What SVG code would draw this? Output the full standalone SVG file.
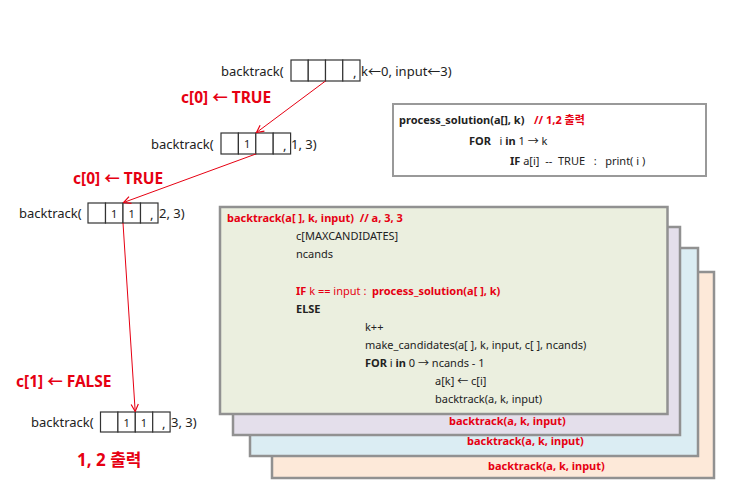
<svg xmlns="http://www.w3.org/2000/svg" width="748" height="488" viewBox="0 0 748 488">
<defs>
<style>
text{font-family:"Noto Sans","Noto Sans CJK KR",sans-serif;fill:#222}
.t13{font-size:13px}
.c11{font-size:11px}
.b{font-weight:bold}
.r{fill:#e60012}
.lbl{font-size:15.5px;font-weight:bold;fill:#e60012}
.cell{fill:#fff;stroke:#333;stroke-width:1.2}
.card{stroke:#919191;stroke-width:2.5}
.conn{stroke:#e60012;stroke-width:1;fill:none}
</style>
<marker id="ah" viewBox="0 0 10 10" refX="9" refY="5" markerWidth="9" markerHeight="9" markerUnits="userSpaceOnUse" orient="auto">
<path d="M1,1 L9,5 L1,9" fill="none" stroke="#e60012" stroke-width="1.3"/>
</marker>
</defs>
<rect width="748" height="488" fill="#fff"/>

<g id="call1">
<text class="t13" x="221" y="76">backtrack(</text>
<rect class="cell" x="291" y="60" width="17.25" height="21"/>
<rect class="cell" x="308.25" y="60" width="17.25" height="21"/>
<rect class="cell" x="325.5" y="60" width="17.25" height="21"/>
<rect class="cell" x="342.75" y="60" width="17.25" height="21"/>
<text class="t13" x="353" y="77">,</text>
<text class="t13" x="361" y="76">k←0, input←3)</text>
</g>

<g id="call2">
<text class="t13" x="151" y="149">backtrack(</text>
<rect class="cell" x="221" y="133" width="17.4" height="21"/>
<rect class="cell" x="238.4" y="133" width="17.4" height="21"/>
<rect class="cell" x="255.8" y="133" width="17.4" height="21"/>
<rect class="cell" x="273.2" y="133" width="17.4" height="21"/>
<text class="c11" x="247.1" y="148" text-anchor="middle">1</text>
<text class="t13" x="283" y="150">,</text>
<text class="t13" x="291" y="149">1, 3)</text>
</g>

<g id="call3">
<text class="t13" x="19" y="218">backtrack(</text>
<rect class="cell" x="88" y="203" width="17.5" height="20"/>
<rect class="cell" x="105.5" y="203" width="17.5" height="20"/>
<rect class="cell" x="123" y="203" width="17.5" height="20"/>
<rect class="cell" x="140.5" y="203" width="17.5" height="20"/>
<text class="c11" x="114.25" y="217.5" text-anchor="middle">1</text>
<text class="c11" x="131.75" y="217.5" text-anchor="middle">1</text>
<text class="t13" x="150" y="219">,</text>
<text class="t13" x="159" y="218">2, 3)</text>
</g>

<g id="call4">
<text class="t13" x="31" y="427">backtrack(</text>
<rect class="cell" x="100.5" y="412" width="17.4" height="20"/>
<rect class="cell" x="117.9" y="412" width="17.4" height="20"/>
<rect class="cell" x="135.3" y="412" width="17.4" height="20"/>
<rect class="cell" x="152.7" y="412" width="17.4" height="20"/>
<text class="c11" x="126.6" y="426.5" text-anchor="middle">1</text>
<text class="c11" x="144" y="426.5" text-anchor="middle">1</text>
<text class="t13" x="162" y="428">,</text>
<text class="t13" x="171" y="427">3, 3)</text>
</g>

<g id="labels">
<text class="lbl" x="181" y="103">c[0] ← TRUE</text>
<text class="lbl" x="73" y="184">c[0] ← TRUE</text>
<text class="lbl" x="16" y="387">c[1] ← FALSE</text>
<text class="lbl" x="77" y="466" style="font-size:17px">1, 2 출력</text>
</g>

<g id="connectors">
<line class="conn" x1="325.5" y1="81" x2="256.5" y2="132.5" marker-end="url(#ah)"/>
<line class="conn" x1="255.8" y1="154" x2="123.5" y2="202.5" marker-end="url(#ah)"/>
<line class="conn" x1="123" y1="223" x2="135.2" y2="411.5" marker-end="url(#ah)"/>
</g>

<g id="process_solution">
<rect x="393" y="104" width="313" height="72" fill="#fff" stroke="#999" stroke-width="2"/>
<text class="c11" x="399" y="124"><tspan class="b">process_solution(a[], k)</tspan><tspan class="b r" x="534">// 1,2 출력</tspan></text>
<text class="c11" x="469" y="145" xml:space="preserve"><tspan class="b">FOR</tspan>   i <tspan class="b">in</tspan> 1 → k</text>
<text class="c11" x="510" y="165" xml:space="preserve"><tspan class="b">IF</tspan> a[i]  --  TRUE   :   print( i )</text>
</g>

<g id="card4">
<rect class="card" x="272" y="272" width="442" height="206" fill="#fde9d9"/>
<text class="c11 b r" x="488" y="470">backtrack(a, k, input)</text>
</g>
<g id="card3">
<rect class="card" x="250" y="248" width="448" height="208" fill="#dbedf3"/>
<text class="c11 b r" x="467" y="445">backtrack(a, k, input)</text>
</g>
<g id="card2">
<rect class="card" x="233" y="227" width="447" height="208" fill="#e4dfeb"/>
<text class="c11 b r" x="449" y="425">backtrack(a, k, input)</text>
</g>
<g id="card1">
<rect class="card" x="220" y="207" width="447.5" height="207" fill="#ebefdf"/>
<text class="c11 b r" x="227" y="222" xml:space="preserve">backtrack(a[ ], k, input)  // a, 3, 3</text>
<text class="c11" x="296" y="240">c[MAXCANDIDATES]</text>
<text class="c11" x="296" y="258">ncands</text>
<text class="c11 r" x="296" y="295" xml:space="preserve"><tspan class="b r">IF</tspan> k == input :  <tspan class="b r">process_solution(a[ ], k)</tspan></text>
<text class="c11 b" x="296" y="313">ELSE</text>
<text class="c11" x="365" y="331">k++</text>
<text class="c11" x="365" y="349">make_candidates(a[ ], k, input, c[ ], ncands)</text>
<text class="c11" x="365" y="367"><tspan class="b">FOR</tspan> i <tspan class="b">in</tspan> 0 → ncands - 1</text>
<text class="c11" x="435" y="385">a[k] ← c[i]</text>
<text class="c11" x="435" y="403">backtrack(a, k, input)</text>
</g>
</svg>
